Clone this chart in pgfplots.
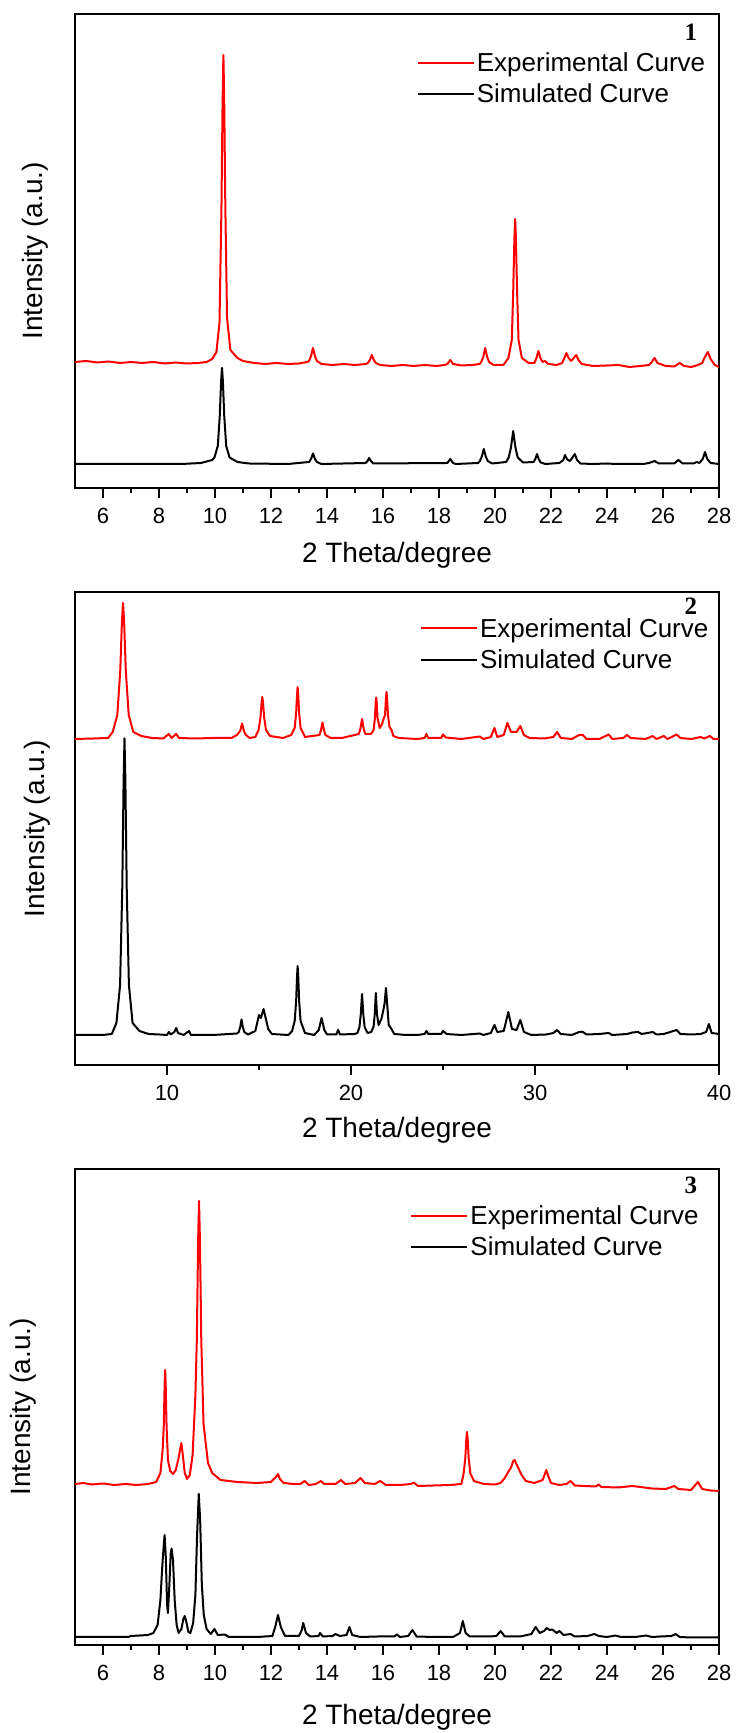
\documentclass[border=0pt]{standalone}
\usepackage{fontspec}
\setmainfont{Liberation Sans}
\newfontfamily\numfont{Liberation Serif}
\usepackage{pgfplots}
\pgfplotsset{compat=1.18}
\definecolor{expred}{RGB}{255,0,0}
\pgfplotsset{
  xrd/.style={
    scale only axis, width=644pt, anchor=north west,
    every axis/.append style={line width=2pt},
    ytick=\empty, xtick pos=left,
    tick align=outside,
    major tick length=10pt, minor tick length=5pt,
    every tick/.style={black, line width=1.8pt},
    minor x tick num=1,
    /pgf/number format/assume math mode=true,
    xticklabel style={font=\fontsize{22}{26}\selectfont, anchor=center, yshift=-18pt},
    label style={font=\fontsize{28}{32}\selectfont},
    xlabel={2 Theta/degree}, ylabel={Intensity (a.u.)},
    legend style={draw=none, fill=none, font=\fontsize{26}{30}\selectfont, anchor=north west, row sep=7pt, inner sep=0pt, legend cell align=left},
    legend image code/.code={\draw[#1, line width=2.2pt] (0pt,0pt) -- (56pt,0pt);},
    ymin=0,
  },
  exp/.style={expred, line width=2pt, line join=round},
  sim/.style={black, line width=2pt, line join=round},
}
\begin{document}
\begin{tikzpicture}
\path[use as bounding box] (0,0) rectangle (737pt,1733pt);
% ---------------- panel 1
\begin{axis}[xrd, at={(75pt,1719pt)}, height=474pt, xmin=5, xmax=28, ymax=474,
  xtick={6,8,...,28},
  ylabel style={at={(axis description cs:-0.062,0.5)}, anchor=center},
  xlabel style={at={(axis description cs:0.5,0)}, anchor=center, yshift=-67pt},
  legend style={at={(axis description cs:0.529,0.9245)}}]
\addplot[exp] coordinates {
(5.0,126)(5.4,127)(5.8,125.5)(6.2,126.5)(6.6,125)(7.0,126)(7.4,125)(7.8,126)(8.2,124.5)(8.6,125.5)(9.0,124.5)(9.4,125)(9.7,126)
(9.9,129)(10.05,136)(10.16,165)(10.23,279)(10.272,390)(10.3,433)(10.328,390)(10.37,279)(10.43,170)(10.55,138)(10.8,130)(11.0,127)
(11.4,125)(11.8,124)(12.2,125)(12.6,124)(13.0,124.5)(13.3,126)
(13.36,127)(13.43,132)(13.5,140)(13.57,132)(13.64,127)(13.8,124)
(14.2,123)(14.6,124)(15.0,123)(15.4,124)
(15.46,125)(15.53,128)(15.6,133)(15.67,128)(15.74,125)(15.9,123)
(16.3,122)(16.7,123)(17.1,122)(17.5,123)(17.9,122)(18.2,123)
(18.3,124)(18.4,128)(18.5,124)
(18.8,122.5)(19.2,123)(19.45,124)
(19.51,126)(19.58,131)(19.65,140)(19.72,131)(19.79,126)(19.95,123)
(20.3,123)(20.48,130)(20.6,148)(20.65,196)(20.692,248.6)(20.72,269)(20.748,248.6)(20.79,196)(20.84,148)(20.96,130)(21.2,125)
(21.41,125)(21.48,130)(21.55,137)(21.62,130)(21.7,126)(21.78,127)(21.9,124)
(22.2,123)(22.4,125)(22.47,129.5)(22.55,135)(22.63,130)(22.72,127)(22.9,133)(22.98,128)(23.1,124)
(23.5,122)(24.0,122.5)(24.4,123)(24.8,121)(25.2,122)(25.5,123)
(25.6,126)(25.7,130)(25.8,125)
(26.1,122)(26.4,121.5)(26.6,125)(26.75,122)(27.0,121)(27.2,122.5)(27.4,125)
(27.48,130)(27.6,136)(27.7,129)(27.85,123)(28.0,121)
};
\addlegendentry{Experimental Curve}
\addplot[sim] coordinates {
(5.0,24)(8.8,24)(9.5,25)(9.9,28)
(9.98,30.5)(10.1,42)(10.17,72)(10.218,106.6)(10.25,120)(10.282,106.6)(10.33,72)(10.4,42)(10.52,30.5)(10.8,26)(11.2,24.5)(12.6,24)
(13.36,26)(13.43,29)(13.5,34.5)(13.57,29)(13.64,26)(13.8,24)
(15.38,25)(15.45,27)(15.5,30)(15.57,27)(15.65,24.5)
(18.3,25)(18.4,29)(18.5,25)(18.6,24)
(19.4,25)(19.46,27)(19.53,31.5)(19.6,39)(19.67,31.5)(19.74,27)(19.9,24.5)
(20.4,26)(20.49,30.6)(20.57,40.5)(20.65,57)(20.73,40.5)(20.81,30.6)(21.0,25.5)
(21.38,26)(21.44,29)(21.5,34)(21.56,29)(21.63,25.5)(21.8,24)
(22.3,25)(22.44,28)(22.5,33)(22.58,28.5)(22.68,27)(22.85,34)(22.93,28)(23.05,24.5)
(23.5,24)(24.0,24.5)(24.3,24)(25.3,24)(25.5,25)(25.7,27)(25.85,24.5)(26.4,24.5)(26.55,28)(26.7,24.5)(27.1,24.5)(27.2,26)(27.3,25)(27.42,29)(27.5,36)(27.58,29)(27.7,25)(28.0,24)
};
\addlegendentry{Simulated Curve}
\node[font=\numfont\bfseries\fontsize{25}{25}\selectfont] at (axis description cs:0.9565,0.962) {1};
\end{axis}
% ---------------- panel 2
\begin{axis}[xrd, at={(75pt,1141pt)}, height=473pt, xmin=5, xmax=40, ymax=473,
  xtick={10,20,30,40},
  ylabel style={at={(axis description cs:-0.058,0.5)}, anchor=center},
  xlabel style={at={(axis description cs:0.5,0)}, anchor=center, yshift=-65pt},
  legend style={at={(axis description cs:0.534,0.951)}}]
\addplot[exp] coordinates {
(5.0,326)(6.0,326.5)(6.8,327)(7.05,333)(7.3,350)(7.46,394.5)(7.55,443)(7.61,462)(7.67,443)(7.76,394.5)(7.92,350)(8.17,333)(8.6,329)(9.2,327)(9.8,326.5)
(10.1,331)(10.25,327)(10.5,331)(10.65,327)(11.5,326.5)(12.5,327)(13.5,327)(13.8,330)
(13.98,334)(14.08,341.5)(14.18,334)(14.28,330)(14.5,327)
(14.8,328)(14.98,335)(15.08,347.5)(15.14,362)(15.18,368)(15.22,362)(15.28,347.5)(15.38,335)(15.6,329)(16.3,327)(16.75,330)
(16.94,337)(17.02,352)(17.068,371)(17.1,378)(17.132,371)(17.18,352)(17.26,337)(17.5,328)
(18.29,330)(18.37,335)(18.45,342.5)(18.53,335)(18.61,330)(18.9,327)(19.5,327)(20.2,330)
(20.42,331)(20.51,336)(20.6,346)(20.69,336)(20.78,331)
(21.09,331)(21.23,335)(21.3,347)(21.34,362)(21.37,367.5)(21.4,362)(21.44,347)(21.56,337)
(21.69,341)(21.77,346)(21.85,350)(21.9,367)(21.93,373)(21.96,367)(22.01,350)(22.09,338)(22.2,335)(22.3,329)(22.6,327)
(23.6,326)(24.0,327)(24.1,331)(24.2,327)(24.9,327)(25.0,330.5)(25.15,327.5)(26.0,326)(27.0,328.5)(27.2,326)(27.6,328)(27.8,337)(27.95,328)
(28.3,330)(28.5,342)(28.7,333)(29.0,333)(29.2,339)(29.4,330)(29.7,327)(30.5,326.5)(31.0,328)(31.2,333)(31.4,327)(32.0,326)(32.4,330)(32.6,330)(32.8,326)
(33.5,326)(34.0,330.5)(34.2,326)(34.8,327)(35.0,330)(35.2,327)(36.0,326)(36.4,329)(36.6,326)(37.0,329)(37.2,326)(37.7,330.5)(37.9,327)
(38.5,326)(39.0,328)(39.2,326.5)(39.5,329)(39.7,326)(40.0,326)
};
\addlegendentry{Experimental Curve}
\addplot[sim] coordinates {
(5.0,30)(6.5,30)(7.0,31)(7.25,42)(7.45,80)(7.57,178)(7.642,285)(7.69,326.5)(7.738,285)(7.81,178)(7.93,80)(8.13,42)(8.5,34)(9.0,31)(9.6,30.5)
(10.0,30)(10.1,33)(10.2,30.5)(10.4,33)(10.5,37)(10.6,32)(10.9,30)(11.2,34)(11.3,30)(12.5,30)(13.8,31.5)
(13.9,33)(13.98,38)(14.05,45.5)(14.12,38)(14.2,33)(14.4,30.5)
(14.8,34)(15.0,50)(15.1,47)(15.25,56)(15.35,48)(15.5,36)(15.7,31)(16.6,30)(16.8,34)
(16.94,44)(17.02,64.5)(17.068,89)(17.1,99)(17.132,89)(17.18,64.5)(17.26,44)(17.5,32)
(18.0,30)(18.25,35)(18.4,47)(18.55,35)(18.7,30.5)(19.2,30.5)(19.3,35)(19.4,30.5)(20.2,31)
(20.35,32)(20.46,38)(20.53,50.5)(20.6,71)(20.67,50.5)(20.74,38)(20.9,32)(21.1,33)
(21.23,38.5)(21.29,51)(21.35,72)(21.41,51)(21.5,40)(21.65,46)
(21.76,55)(21.83,62)(21.9,77)(21.97,60)(22.05,40)(22.2,36)(22.35,31)
(23.0,30)(23.6,30)(24.0,31)(24.1,34)(24.2,31)(24.9,31)(25.0,34)(25.2,31)(26.0,30)(27.0,31.5)(27.2,30)(27.6,32)(27.8,40)(27.95,33)
(28.3,34)(28.55,53)(28.75,36)(29.0,35)(29.2,45)(29.4,33)(29.8,30)(30.6,30.5)(31.0,32)(31.2,35)(31.4,31)(32.0,30)(32.4,33)(32.6,33)(32.8,30.5)
(33.5,31)(34.0,32)(34.2,30)(35.0,31)(35.3,32.5)(35.6,33)(35.8,31)(36.4,33)(36.6,30.5)(37.0,31)(37.7,35)(37.9,31)
(38.5,30.5)(39.0,31)(39.3,33)(39.45,41)(39.6,32)(40.0,31)
};
\addlegendentry{Simulated Curve}
\node[font=\numfont\bfseries\fontsize{25}{25}\selectfont] at (axis description cs:0.9565,0.97) {2};
\end{axis}
% ---------------- panel 3
\begin{axis}[xrd, at={(75pt,564pt)}, height=476pt, xmin=5, xmax=28, ymax=476,
  xtick={6,8,...,28},
  ylabel style={at={(axis description cs:-0.08,0.5)}, anchor=center},
  xlabel style={at={(axis description cs:0.5,0)}, anchor=center, yshift=-72pt},
  legend style={at={(axis description cs:0.519,0.929)}}]
\addplot[exp] coordinates {
(5.0,161)(5.3,162)(5.6,160.5)(6.0,161.5)(6.4,160)(6.8,161)(7.2,160)(7.6,161)(7.9,163)(8.05,172)(8.13,195)
(8.17,219)(8.2,259)(8.22,275)(8.24,259)(8.27,219)(8.32,185)(8.4,174)(8.5,171)(8.6,175)(8.7,187)
(8.75,195)(8.8,202)(8.85,190)(8.92,172)(9.0,166)(9.1,170)(9.2,190)(9.3,250)
(9.35,304)(9.398,405)(9.43,444)(9.462,405)(9.51,305)(9.59,221)(9.75,182)(9.9,172)(10.2,165)(10.8,163)(11.5,162)(12.0,163)(12.1,166)
(12.18,168)(12.25,171)(12.32,166)(12.45,162)(12.8,161)(13.05,161)(13.2,164)(13.35,160)(13.6,161)(13.78,164)(13.9,161)(14.3,161)(14.5,165)(14.65,161)
(15.0,162)(15.2,167)(15.35,162)(15.7,161)(15.9,164)(16.1,160)(16.6,160)(17.0,161)(17.1,162.5)(17.25,159)(17.8,159.5)(18.4,160)(18.8,161)
(18.88,171.5)(18.94,187)(18.976,206)(19.0,213)(19.024,206)(19.06,187)(19.12,171.5)(19.25,164)(19.6,161)(20.0,160.5)(20.2,162)(20.35,167)(20.45,172)
(20.58,178)(20.65,184)(20.7,185)(20.78,180)(20.9,173)(20.95,170)(21.1,164)(21.4,162)(21.7,165)
(21.77,170)(21.83,175)(21.9,169)(22.0,162)(22.3,160)(22.55,161)(22.7,164)(22.85,159.5)(23.2,159)(23.6,158.5)(23.7,160.5)(23.8,158)
(24.4,157.5)(24.9,159)(25.2,158)(25.6,156.5)(26.1,156)(26.4,159)(26.55,156)(27.0,155)(27.25,163)(27.4,156)(27.7,154.5)(28.0,154)
};
\addlegendentry{Experimental Curve}
\addplot[sim] coordinates {
(5.0,8)(6.9,8)(7.0,9)(7.6,10)(7.8,12)(7.95,20)(8.05,45)(8.12,80)
(8.17,100)(8.2,110)(8.24,90)(8.29,40)(8.32,32)(8.37,60)(8.42,92)(8.45,96.5)(8.5,85)(8.56,45)(8.63,20)(8.7,12)
(8.8,16)(8.87,26)(8.92,29)(8.97,24)(9.05,13)(9.12,12)(9.22,22)(9.3,50)(9.36,110)(9.42,151)(9.47,125)(9.53,60)(9.6,30)(9.7,16)(9.85,11)(9.98,16)(10.1,10)(10.35,10.5)(10.5,8)
(11.5,8)(12.05,9)(12.15,18)(12.25,30)(12.35,18)(12.5,9)(13.0,9)(13.1,15)(13.15,22)(13.25,12)(13.4,8.5)(13.7,9)(13.75,12)(13.85,8.5)
(14.2,9)(14.3,11)(14.45,9)(14.7,10)(14.8,18)(14.9,10)(15.2,8)(15.8,8.5)(16.4,8.5)(16.5,10.5)(16.6,8)(16.9,9)(17.05,15)(17.2,8.5)(17.8,8)
(18.5,8)(18.75,12)(18.85,24)(18.95,12)(19.1,8.5)(19.8,8.5)(20.05,9)(20.2,14)(20.35,8.5)(20.9,8.5)(21.3,11)(21.45,18)(21.6,12)(21.75,14)(21.85,17)(21.95,15)(22.05,15.5)(22.2,12)(22.3,14)(22.45,10)
(22.7,11)(22.85,8.5)(23.3,9)(23.55,11)(23.7,9)(24.0,8)(24.3,9.5)(24.5,8)(25.0,8)(25.4,9.5)(25.6,8)(25.9,8.5)(26.3,9)(26.45,11)(26.6,8)(27.0,7.5)(28.0,7.5)
};
\addlegendentry{Simulated Curve}
\node[font=\numfont\bfseries\fontsize{25}{25}\selectfont] at (axis description cs:0.9565,0.965) {3};
\end{axis}
\end{tikzpicture}
\end{document}
